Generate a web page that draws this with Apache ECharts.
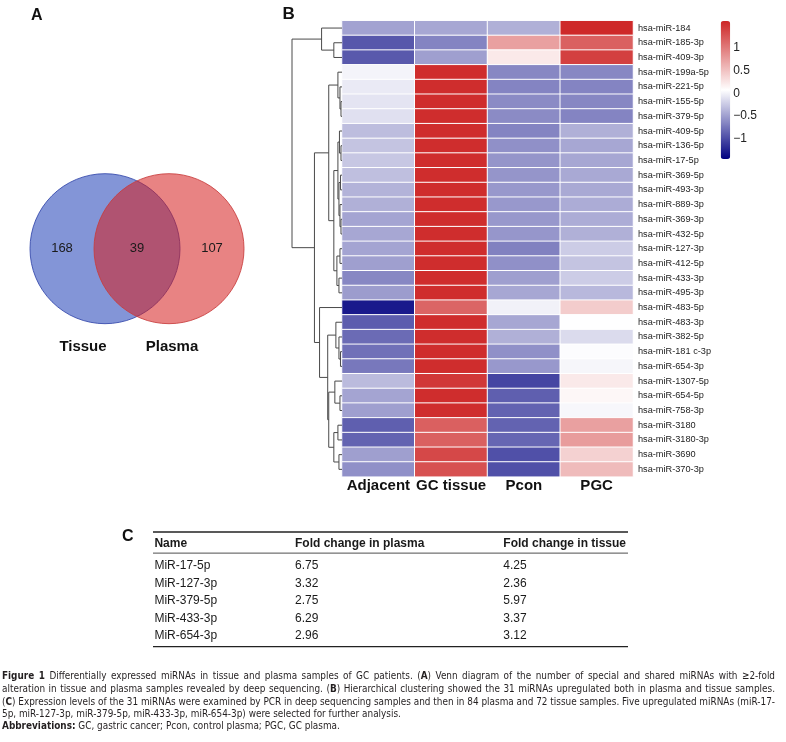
<!DOCTYPE html>
<html>
<head>
<meta charset="utf-8">
<script src="https://cdn.jsdelivr.net/npm/echarts@6/dist/echarts.min.js"></script>
<style>
html,body{margin:0;padding:0;background:#fff;}
#chart{width:786px;height:742px;}
</style>
</head>
<body>
<div id="chart"></div>
<script>
// ---------- DATA ----------
const vennSets = ['Tissue', 'Plasma'];
const vennCounts = [168, 39, 107]; // tissue only, shared, plasma only

const cols = ['Adjacent', 'GC tissue', 'Pcon', 'PGC'];
const rowLabels = ['hsa-miR-184','hsa-miR-185-3p','hsa-miR-409-3p','hsa-miR-199a-5p','hsa-miR-221-5p','hsa-miR-155-5p','hsa-miR-379-5p','hsa-miR-409-5p','hsa-miR-136-5p','hsa-miR-17-5p','hsa-miR-369-5p','hsa-miR-493-3p','hsa-miR-889-3p','hsa-miR-369-3p','hsa-miR-432-5p','hsa-miR-127-3p','hsa-miR-412-5p','hsa-miR-433-3p','hsa-miR-495-3p','hsa-miR-483-5p','hsa-miR-483-3p','hsa-miR-382-5p','hsa-miR-181 c-3p','hsa-miR-654-3p','hsa-miR-1307-5p','hsa-miR-654-5p','hsa-miR-758-3p','hsa-miR-3180','hsa-miR-3180-3p','hsa-miR-3690','hsa-miR-370-3p'];
const adjacent = [-0.48,-0.93,-0.92, 0.01,-0.05,-0.085,-0.11, -0.32,-0.28,-0.26,-0.31, -0.38,-0.40,-0.47,-0.45, -0.47,-0.50,-0.64,-0.52, -1.30,-0.90,-0.81,-0.78, -0.73,-0.33,-0.47,-0.50, -0.88,-0.86,-0.50,-0.59];
const gcTissue = [-0.45,-0.66,-0.50, 1.55,1.55,1.55,1.55, 1.55,1.55,1.55,1.55, 1.55,1.55,1.55,1.55, 1.55,1.55,1.55,1.55, 1.16,1.55,1.55,1.55, 1.55,1.47,1.55,1.55, 1.19,1.19,1.36,1.30];
const pcon = [-0.40,0.74,0.23, -0.64,-0.66,-0.62,-0.62, -0.66,-0.59,-0.56,-0.56, -0.54,-0.54,-0.54,-0.55, -0.68,-0.59,-0.50,-0.45, -0.01,-0.45,-0.40,-0.59, -0.54,-1.04,-0.88,-0.86, -0.86,-0.84,-0.97,-0.97];
const pgc = [1.58,1.19,1.42, -0.64,-0.66,-0.64,-0.66, -0.40,-0.45,-0.45,-0.44, -0.44,-0.42,-0.42,-0.40, -0.23,-0.28,-0.23,-0.35, 0.43,0.07,-0.14,0.06, 0.02,0.23,0.13,0.03, 0.74,0.77,0.40,0.55];
const scaleMin = -1.45, scaleMax = 1.6;
const legendTicks = [-1, -0.5, 0, 0.5, 1];

// dendrogram: [height, left, right]; leaves are row indices
const dendroTree = [49,
  [20, 0, [8, 1, 2]],
  [27,
    [13,
      [4, 3, [2, 4, [1, 5, 6]]],
      [8,
        [4, [2.5, 7, [1, 8, 9]], [3, [1.5, 10, 11], [2, 12, [1, 13, 14]]]],
        [5, [2, 15, 16], [3, 17, 18]]
      ]
    ],
    [22, 19,
      [14,
        [6, 20, [3, 21, [1.5, 22, 23]]],
        [13, [7, 24, [2, 25, 26]], [8, [4, 27, 28], [3, 29, 30]]]
      ]
    ]
  ]
];

const tableHeader = ['Name', 'Fold change in plasma', 'Fold change in tissue'];
const tableNames = ['MiR-17-5p', 'MiR-127-3p', 'MiR-379-5p', 'MiR-433-3p', 'MiR-654-3p'];
const plasmaFC = [6.75, 3.32, 2.75, 6.29, 2.96];
const tissueFC = [4.25, 2.36, 5.97, 3.37, 3.12];

const captionLines = [
  [['Figure 1', 1], [' Differentially expressed miRNAs in tissue and plasma samples of GC patients. (', 0], ['A', 1], [') Venn diagram of the number of special and shared miRNAs with \u22652-fold', 0]],
  [['alteration in tissue and plasma samples revealed by deep sequencing. (', 0], ['B', 1], [') Hierarchical clustering showed the 31 miRNAs upregulated both in plasma and tissue samples.', 0]],
  [['(', 0], ['C', 1], [') Expression levels of the 31 miRNAs were examined by PCR in deep sequencing samples and then in 84 plasma and 72 tissue samples. Five upregulated miRNAs (miR-17-', 0]],
  [['5p, miR-127-3p, miR-379-5p, miR-433-3p, miR-654-3p) were selected for further analysis.', 0]],
  [['Abbreviations:', 1], [' GC, gastric cancer; Pcon, control plasma; PGC, GC plasma.', 0]]
];

// ---------- BUILD ----------
const FONT = '"Liberation Sans", Arial, Helvetica, sans-serif';
const colVals = [adjacent, gcTissue, pcon, pgc];
const heatData = [];
rowLabels.forEach((r, ri) => colVals.forEach((arr, ci) => heatData.push([ci, ri, arr[ri]])));

const dendroLinks = [];
function layoutNode(n) {
  if (typeof n === 'number') return [0, n];
  const l = layoutNode(n[1]), r = layoutNode(n[2]);
  dendroLinks.push([l[0], l[1], n[0], r[0], r[1]]);
  return [n[0], (l[1] + r[1]) / 2];
}
layoutNode(dendroTree);

// venn geometry (data units of venn grid)
const vennR = 75, vennHalfDist = 32;
const vennCircles = [[-vennHalfDist, 0, vennR, 0], [vennHalfDist, 0, vennR, 1]];
const vennFill = ['rgba(30,62,182,0.55)', 'rgba(213,30,30,0.55)'];
const vennStroke = ['rgba(50,70,170,0.85)', 'rgba(200,60,60,0.85)'];
const vennLabelPts = [
  [((-vennHalfDist - vennR) + (vennHalfDist - vennR)) / 2, 0, 0],
  [0, 0, 1],
  [((-vennHalfDist + vennR) + (vennHalfDist + vennR)) / 2, 0, 2]
];
const vennNamePts = [[-vennHalfDist - 22, -98, 0], [vennHalfDist + 3, -98, 1]];

const tableColPos = [0.003, 0.299, 0.7375];
const tableRows = [0, 1, 2, 3, 4, 5];

// ---------- caption (justified lines 1-3) ----------
const capFont = '"Liberation Sans Narrow", "DejaVu Sans Condensed", "Liberation Sans", sans-serif';
const capSize = 11.3;
const capLeft = 2;
const capJustifyWidth = 773;
const capY = [676, 689, 702, 714, 726.5];
const mctx = document.createElement('canvas').getContext('2d');
function mw(t, b) { mctx.font = (b ? 'bold ' : '') + capSize + 'px ' + capFont; return mctx.measureText(t).width; }
function tokenize(segs) {
  const words = []; let cur = [];
  segs.forEach(s => {
    const parts = s[0].split(' ');
    parts.forEach((p, k) => {
      if (k > 0) { if (cur.length) words.push(cur); cur = []; }
      if (p.length) cur.push([p, s[1]]);
    });
  });
  if (cur.length) words.push(cur);
  return words;
}
const lineWords = captionLines.map(tokenize);
const spaceW = mw(' ', 0);
function wordW(w) { return w.reduce((a, p) => a + mw(p[0], p[1]), 0); }
function natW(words) { return words.reduce((a, w) => a + wordW(w), 0) + spaceW * (words.length - 1); }
const capScale = Math.min(1, ...lineWords.slice(0, 3).map(ws => capJustifyWidth / natW(ws)));
const captionGraphics = [];
lineWords.forEach((words, li) => {
  const widths = words.map(wordW);
  const total = widths.reduce((a, b) => a + b, 0);
  let gap = spaceW * capScale;
  if (li < 3) gap = (capJustifyWidth - total * capScale) / (words.length - 1);
  let x = capLeft;
  words.forEach((w, wi) => {
    captionGraphics.push({
      type: 'text', x: x, y: capY[li], scaleX: capScale, silent: true,
      style: {
        text: w.map(p => (p[1] ? '{b|' : '{n|') + p[0] + '}').join(''),
        rich: {
          n: { fontFamily: capFont, fontSize: capSize, fill: '#231F20' },
          b: { fontFamily: capFont, fontSize: capSize, fontWeight: 'bold', fill: '#231F20' }
        },
        verticalAlign: 'middle', align: 'left'
      }
    });
    x += widths[wi] * capScale + gap;
  });
});

const panelLabels = [['A', 31, 16, 16], ['B', 282.5, 14.5, 17], ['C', 122, 537, 16]].map(p => ({
  type: 'text', x: p[1], y: p[2], silent: true,
  style: { text: p[0], fontFamily: FONT, fontSize: p[3], fontWeight: 'bold', fill: '#111', verticalAlign: 'middle', align: 'left' }
}));

const chart = echarts.init(document.getElementById('chart'), null, { renderer: 'canvas' });
chart.setOption({
  animation: false,
  backgroundColor: '#fff',
  textStyle: { fontFamily: FONT },
  grid: [
    { left: 342, top: 20.7, width: 291, height: 456 },   // heatmap
    { left: 292, top: 20.7, width: 50, height: 456 },    // dendrogram
    { left: 720.7, top: 21, width: 9.5, height: 138 },   // legend ticks
    { left: 17, top: 158.7, width: 240, height: 180 },   // venn
    { left: 153, top: 532, width: 475, height: 114.7 }   // table
  ],
  xAxis: [
    { type: 'category', gridIndex: 0, data: cols, position: 'bottom',
      axisLine: { show: false }, axisTick: { show: false }, splitLine: { show: false },
      axisLabel: { interval: 0, margin: 2, fontSize: 15, fontWeight: 'bold', color: '#111', fontFamily: FONT } },
    { type: 'value', gridIndex: 1, min: 0, max: 49, inverse: true, show: false },
    { type: 'value', gridIndex: 2, min: 0, max: 1, show: false },
    { type: 'value', gridIndex: 3, min: -120, max: 120, show: false },
    { type: 'value', gridIndex: 4, min: 0, max: 1, show: false }
  ],
  yAxis: [
    { type: 'category', gridIndex: 0, data: rowLabels, inverse: true, position: 'right',
      axisLine: { show: false }, axisTick: { show: false }, splitLine: { show: false },
      axisLabel: { interval: 0, margin: 5, fontSize: 9.2, color: '#222', fontFamily: FONT } },
    { type: 'value', gridIndex: 1, min: -0.5, max: 30.5, inverse: true, show: false },
    { type: 'value', gridIndex: 2, min: scaleMin, max: scaleMax, position: 'right',
      axisLine: { show: false }, axisTick: { show: false }, splitLine: { show: false },
      axisLabel: { customValues: legendTicks, margin: 3, fontSize: 12, color: '#222', fontFamily: FONT,
        formatter: v => String(v).replace('-', '\u2212') } },
    { type: 'value', gridIndex: 3, min: -90, max: 90, show: false },
    { type: 'value', gridIndex: 4, min: 0, max: 6.52, inverse: true, show: false }
  ],
  visualMap: {
    type: 'continuous', seriesIndex: 0, min: scaleMin, max: scaleMax, calculable: false,
    orient: 'vertical', left: 720.7, top: 21, itemWidth: 9.5, itemHeight: 138, padding: 0,
    text: null, showLabel: false, hoverLink: false,
    inRange: { color: ['#000080', '#ffffff', '#CD2626'] }
  },
  series: [
    { type: 'heatmap', xAxisIndex: 0, yAxisIndex: 0, data: heatData, silent: true,
      itemStyle: { borderColor: '#ffffff', borderWidth: 1 }, emphasis: { disabled: true } },
    { type: 'custom', xAxisIndex: 1, yAxisIndex: 1, data: dendroLinks, clip: false, silent: true,
      encode: { x: [0, 2, 3], y: [1, 4] },
      renderItem: (params, api) => {
        const d = dendroLinks[params.dataIndex];
        const pts = [api.coord([d[0], d[1]]), api.coord([d[2], d[1]]), api.coord([d[2], d[4]]), api.coord([d[3], d[4]])];
        return { type: 'polyline', shape: { points: pts }, style: { stroke: '#4a4a4a', lineWidth: 1, fill: null } };
      } },
    { type: 'custom', xAxisIndex: 3, yAxisIndex: 3, data: vennCircles, clip: false, silent: true,
      encode: { x: 0, y: 1 },
      renderItem: (params, api) => {
        const d = vennCircles[params.dataIndex];
        const c = api.coord([d[0], d[1]]);
        const r = api.size([d[2], 0])[0];
        return { type: 'circle', shape: { cx: c[0], cy: c[1], r: r },
          style: { fill: vennFill[d[3]], stroke: vennStroke[d[3]], lineWidth: 1 } };
      } },
    { type: 'custom', xAxisIndex: 3, yAxisIndex: 3, data: vennLabelPts, clip: false, silent: true,
      encode: { x: 0, y: 1 }, z: 3,
      renderItem: (params, api) => {
        const d = vennLabelPts[params.dataIndex];
        const c = api.coord([d[0], d[1]]);
        return { type: 'text', x: c[0], y: c[1],
          style: { text: String(vennCounts[d[2]]), fill: '#1a1a1a', fontFamily: FONT, fontSize: 13, align: 'center', verticalAlign: 'middle' } };
      } },
    { type: 'custom', xAxisIndex: 3, yAxisIndex: 3, data: vennNamePts, clip: false, silent: true,
      encode: { x: 0, y: 1 },
      renderItem: (params, api) => {
        const d = vennNamePts[params.dataIndex];
        const c = api.coord([d[0], d[1]]);
        return { type: 'text', x: c[0], y: c[1],
          style: { text: vennSets[d[2]], fill: '#111', fontFamily: FONT, fontSize: 15, fontWeight: 'bold', align: 'center', verticalAlign: 'middle' } };
      } },
    { type: 'custom', xAxisIndex: 4, yAxisIndex: 4, data: tableRows, clip: false, silent: true,
      encode: { y: 0 },
      renderItem: (params, api) => {
        const i = params.dataIndex;
        const y = i === 0 ? 0.64 : 1.92 + (i - 1);
        const cells = i === 0 ? tableHeader : [tableNames[i - 1], plasmaFC[i - 1].toFixed(2), tissueFC[i - 1].toFixed(2)];
        const children = cells.map((t, c) => {
          const p = api.coord([tableColPos[c], y]);
          return { type: 'text', x: p[0], y: p[1],
            style: { text: t, fill: '#1a1a1a', fontFamily: FONT, fontSize: 12, fontWeight: i === 0 ? 'bold' : 'normal', align: 'left', verticalAlign: 'middle' } };
        });
        if (i === 0) {
          [[0, 1.3], [1.2, 0.8], [6.52, 1.3]].forEach(l => {
            const a = api.coord([0, l[0]]), b = api.coord([1, l[0]]);
            children.push({ type: 'line', shape: { x1: a[0], y1: a[1], x2: b[0], y2: b[1] }, style: { stroke: '#222', lineWidth: l[1] } });
          });
        }
        return { type: 'group', children: children };
      } }
  ],
  graphic: panelLabels.concat(captionGraphics)
});
</script>
</body>
</html>
